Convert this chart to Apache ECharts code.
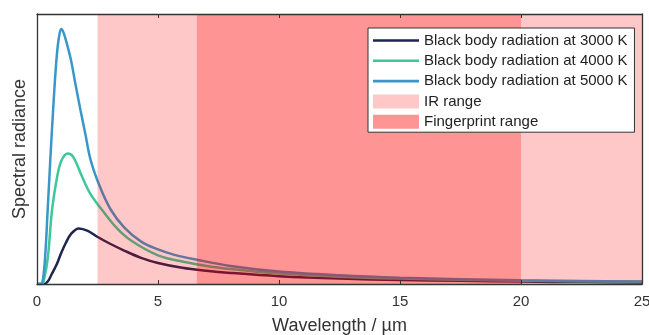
<!DOCTYPE html>
<html>
<head>
<meta charset="utf-8">
<script src="https://cdn.jsdelivr.net/npm/echarts@6/dist/echarts.min.js"></script>
<style>
  html, body { margin: 0; padding: 0; background: #fff; }
  #chart { width: 649px; height: 335px; }
</style>
</head>
<body>
<div id="chart"></div>
<script>
// wavelength (µm) / relative radiance
const x3000 = [0, 0.3, 0.45, 0.6, 0.83, 1.0, 1.18, 1.4, 1.73, 2.1, 2.49, 3.0, 3.6, 4.3, 5.0, 6.0, 7.0, 8.0, 10, 12.5, 15, 17.5, 20, 22.5, 25];
const y3000 = [0, 0, 0.01, 0.035, 0.076, 0.115, 0.15, 0.185, 0.206, 0.197, 0.175, 0.15, 0.124, 0.097, 0.078, 0.06, 0.049, 0.041, 0.029, 0.02, 0.015, 0.012, 0.009, 0.007, 0.006];

const x4000 = [0, 0.2, 0.3, 0.45, 0.62, 0.83, 1.0, 1.27, 1.5, 1.87, 2.2, 2.7, 3.3, 3.9, 5.0, 6.0, 7.2, 8.7, 10, 12.5, 15, 17.5, 20, 22.5, 25];
const y4000 = [0, 0, 0.02, 0.1, 0.273, 0.396, 0.455, 0.483, 0.47, 0.396, 0.335, 0.273, 0.207, 0.16, 0.106, 0.083, 0.064, 0.049, 0.039, 0.027, 0.02, 0.016, 0.012, 0.01, 0.008];

const x5000 = [0, 0.15, 0.25, 0.35, 0.44, 0.55, 0.665, 0.8, 0.9, 1.0, 1.1, 1.25, 1.41, 1.6, 1.8, 2.0, 2.22, 2.6, 3.05, 3.6, 4.29, 5.0, 5.68, 6.6, 8.0, 10, 12.5, 15, 17.5, 20, 22.5, 25];
const y5000 = [0, 0, 0.02, 0.12, 0.273, 0.46, 0.643, 0.827, 0.91, 0.944, 0.93, 0.885, 0.827, 0.735, 0.643, 0.555, 0.458, 0.36, 0.275, 0.21, 0.158, 0.128, 0.108, 0.09, 0.067, 0.046, 0.032, 0.023, 0.018, 0.014, 0.011, 0.009];

const irRange = [[2.5, 6.6], [20, 25]];
const fingerprintRange = [6.6, 20];

const names = ['Black body radiation at 3000 K', 'Black body radiation at 4000 K', 'Black body radiation at 5000 K', 'IR range', 'Fingerprint range'];
const xTicks = [0, 5, 10, 15, 20, 25];

const font = '"Liberation Sans", Arial, sans-serif';
const frame = '#333';
// plain line for the legend, box kept at 46x14 by two tiny corner marks
const lineIcon = 'path://M0,0L0.01,0L0,0.01Z M46,14L45.99,14L46,13.99Z M0,5.7L46,5.7L46,8.3L0,8.3Z';

function pairs(xs, ys) {
    return xs.map((v, i) => [v, ys[i]]);
}

function curve(name, xs, ys, color) {
    return {
        name: name,
        type: 'line',
        data: pairs(xs, ys),
        symbol: 'none',
        smooth: 0.35,
        z: 2,
        lineStyle: { color: color, width: 2.5 },
        itemStyle: { color: color }
    };
}

let chart = echarts.init(document.getElementById('chart'));

let options = {
    animation: false,
    grid: { left: 37, top: 14, right: 7, bottom: 51, outerBoundsMode: 'none' },
    legend: {
        orient: 'vertical',
        left: 368,
        top: 28,
        padding: [5, 7, 3, 5],
        itemGap: 5.3,
        itemWidth: 46,
        itemHeight: 14,
        backgroundColor: '#fff',
        borderColor: '#333',
        borderWidth: 1,
        borderRadius: 0,
        selectedMode: false,
        z: 12,
        textStyle: { fontSize: 15, color: '#222', fontFamily: font },
        data: [
            { name: names[0], icon: lineIcon },
            { name: names[1], icon: lineIcon },
            { name: names[2], icon: lineIcon },
            { name: names[3], icon: 'rect', itemStyle: { color: '#ffc8c8' } },
            { name: names[4], icon: 'rect', itemStyle: { color: '#ff9494' } }
        ]
    },
    xAxis: [{
        type: 'value',
        min: 0,
        max: 25,
        interval: 5,
        z: 10,
        name: 'Wavelength / µm',
        nameLocation: 'middle',
        nameGap: 33,
        nameTextStyle: { fontSize: 18, color: '#333', fontFamily: font },
        axisLine: { show: true, onZero: false, lineStyle: { color: frame, width: 1.3 } },
        axisTick: { show: true, inside: true, length: 4, lineStyle: { color: frame } },
        axisLabel: {
            fontSize: 15, color: '#333', fontFamily: font, margin: 10,
            formatter: v => xTicks.includes(v) ? String(v) : ''
        },
        splitLine: { show: false }
    }, {
        type: 'value',
        position: 'top',
        min: 0,
        max: 25,
        interval: 5,
        z: 10,
        axisLine: { show: true, onZero: false, lineStyle: { color: frame, width: 1.3 } },
        axisTick: { show: true, inside: true, length: 4, lineStyle: { color: frame } },
        axisLabel: { show: false },
        splitLine: { show: false }
    }],
    yAxis: [{
        type: 'value',
        min: 0,
        max: 1,
        z: 10,
        name: 'Spectral radiance',
        nameLocation: 'middle',
        nameGap: 8,
        nameTextStyle: { fontSize: 18, color: '#333', fontFamily: font },
        axisLine: { show: true, onZero: false, lineStyle: { color: frame, width: 1.3 } },
        axisTick: { show: false },
        axisLabel: { show: false },
        splitLine: { show: false }
    }, {
        type: 'value',
        position: 'right',
        min: 0,
        max: 1,
        z: 10,
        axisLine: { show: true, onZero: false, lineStyle: { color: frame, width: 1.3 } },
        axisTick: { show: false },
        axisLabel: { show: false },
        splitLine: { show: false }
    }],
    series: [
        curve(names[0], x3000, y3000, '#1d2550'),
        curve(names[1], x4000, y4000, '#3ec79a'),
        curve(names[2], x5000, y5000, '#3a97c9'),
        {
            name: names[3],
            type: 'line',
            data: [],
            itemStyle: { color: '#ffc8c8' },
            markArea: {
                z: 3,
                silent: true,
                itemStyle: { color: 'rgba(255, 0, 0, 0.216)' },
                data: irRange.map(r => [{ xAxis: r[0] }, { xAxis: r[1] }])
            }
        },
        {
            name: names[4],
            type: 'line',
            data: [],
            itemStyle: { color: '#ff9494' },
            markArea: {
                z: 3,
                silent: true,
                itemStyle: { color: 'rgba(255, 0, 0, 0.42)' },
                data: [[{ xAxis: fingerprintRange[0] }, { xAxis: fingerprintRange[1] }]]
            }
        }
    ]
};

chart.setOption(options, true);
</script>
</body>
</html>
